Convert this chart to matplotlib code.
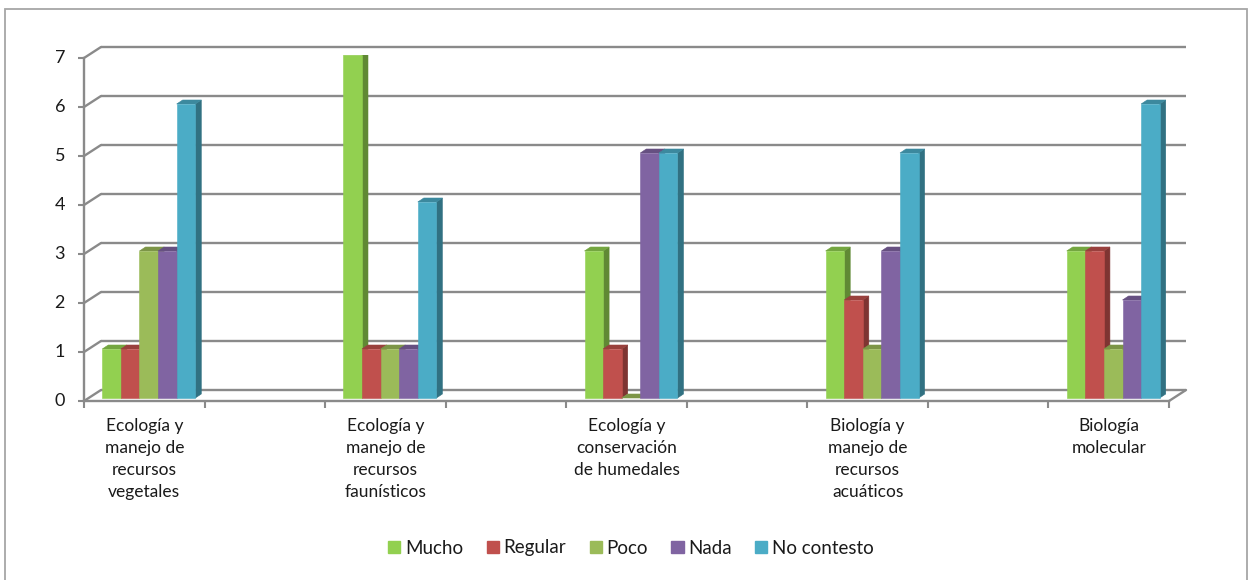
import matplotlib
matplotlib.use("Agg")
import matplotlib.pyplot as plt
from matplotlib.patches import Polygon, Rectangle, Patch, ConnectionPatch
from matplotlib.transforms import Affine2D

plt.rcParams['font.family'] = ['Lato', 'DejaVu Sans']

# ---- data -------------------------------------------------------------
categories = [
    "Ecología y\nmanejo de\nrecursos\nvegetales",
    "Ecología y\nmanejo de\nrecursos\nfaunísticos",
    "Ecología y\nconservación\nde humedales",
    "Biología y\nmanejo de\nrecursos\nacuáticos",
    "Biología\nmolecular",
]
series_names = ["Mucho", "Regular", "Poco", "Nada", "No contesto"]
mucho = [1, 7, 3, 3, 3]
regular = [1, 1, 1, 2, 3]
poco = [3, 1, 0, 1, 1]
nada = [3, 1, 5, 3, 2]
no_contesto = [6, 4, 5, 5, 6]
series_values = [mucho, regular, poco, nada, no_contesto]
y_ticks = [0, 1, 2, 3, 4, 5, 6, 7]

# ---- styling ----------------------------------------------------------
front_colors = ["#92D050", "#C0504D", "#9BBB59", "#8064A2", "#4BACC6"]
grid_color = "#8a8a8a"
text_color = "#1a1a1a"


def shade(hex_color, f):
    h = hex_color.lstrip("#")
    r, g, b = (int(h[i:i + 2], 16) for i in (0, 2, 4))
    return "#{:02x}{:02x}{:02x}".format(int(r * f), int(g * f), int(b * f))


W, H = 1248, 580
fig = plt.figure(figsize=(W / 100, H / 100), dpi=100)

# plot area in pixels (front plane of the bars)
x_left, x_right = 84, 1169
y_zero, px_per_unit, y_floor = 398, 49, 401
n_slots = 9
y_min = -(y_floor - y_zero) / px_per_unit
y_max = 7
top_px = y_zero - y_max * px_per_unit

ax = fig.add_axes([x_left / W, (H - y_floor) / H,
                   (x_right - x_left) / W, (y_floor - top_px) / H])
ax.set_xlim(-0.5, n_slots - 0.5)
ax.set_ylim(y_min, y_max)
ax.axis("off")

px_x = (x_right - x_left) / n_slots
front = ax.transData + Affine2D().translate(0, -3)
back = ax.transData + Affine2D().translate(17, 8)

# back wall gridlines and left-wall connectors
for k in y_ticks:
    ax.plot([-0.5, n_slots - 0.5], [k, k], transform=back, color=grid_color,
            lw=1.7, clip_on=False, zorder=1, solid_capstyle="butt")
    cp = ConnectionPatch(xyA=(-0.5, k), coordsA=front, xyB=(-0.5, k), coordsB=back,
                         color=grid_color, lw=1.7, zorder=1)
    ax.add_artist(cp)
    ax.plot(-0.5, k, marker=0, markersize=4, color=grid_color, mew=1.5,
            transform=front, clip_on=False, zorder=1)
    ax.text(-0.5, k, str(k), transform=front + Affine2D().translate(-19, 0),
            ha="right", va="center", fontsize=13, color=text_color)

# front axis line and floor edges
ax.plot([-0.5, -0.5], [0, y_max], transform=front, color=grid_color, lw=1.7,
        clip_on=False, zorder=1)
ax.plot([-0.5, n_slots - 0.5], [0, 0], transform=front, color=grid_color, lw=1.7,
        clip_on=False, zorder=1)
ax.add_artist(ConnectionPatch(xyA=(n_slots - 0.5, 0), coordsA=front,
                              xyB=(n_slots - 0.5, 0), coordsB=back,
                              color=grid_color, lw=1.7, zorder=1))
for s in range(n_slots + 1):
    ax.plot(s - 0.5, 0, marker=3, markersize=5, color=grid_color, mew=1.5,
            transform=front, clip_on=False, zorder=1)

# bars with top and side faces
bar_w = 18.6 / px_x
shift = 4.5 / px_x
ddx = 6 / px_x
ddy = 4 / px_per_unit
for i, cat in enumerate(categories):
    cx = 2 * i
    for j, vals in enumerate(series_values):
        v = vals[i]
        x0 = cx - 2.5 * bar_w + j * bar_w + shift
        x1 = x0 + bar_w
        col = front_colors[j]
        z = 3 + j
        ax.add_patch(Polygon([(x1, 0), (x1 + ddx, ddy), (x1 + ddx, v + ddy), (x1, v)],
                             closed=True, fc=shade(col, 0.66), ec=shade(col, 0.66),
                             lw=0.4, zorder=z))
        ax.add_patch(Polygon([(x0, v), (x1, v), (x1 + ddx, v + ddy), (x0 + ddx, v + ddy)],
                             closed=True, fc=shade(col, 0.8), ec=shade(col, 0.8),
                             lw=0.4, zorder=z))
        if v > 0:
            ax.add_patch(Rectangle((x0, 0), bar_w, v, fc=col, ec=col, lw=0.4, zorder=z))
    ax.text(cx, 0, cat, transform=front + Affine2D().translate(0, -17),
            ha="center", va="top", fontsize=12.5, color=text_color,
            linespacing=1.45, multialignment="center")

# legend
handles = [Patch(fc=c, ec=c) for c in front_colors]
fig.legend(handles, series_names, loc="center",
           bbox_to_anchor=(631 / W, (H - 548) / H), ncol=5, frameon=False,
           handlelength=0.65, handleheight=0.65, handletextpad=0.25,
           columnspacing=1.25, fontsize=13.5, labelcolor=text_color)

# outer frame
fig.add_artist(Rectangle((5 / W, -0.01), (1247 - 5) / W, (H - 9) / H + 0.01,
                         transform=fig.transFigure, fill=False,
                         ec="#a6a6a6", lw=1.3))

fig.savefig("out.png", dpi=100)
